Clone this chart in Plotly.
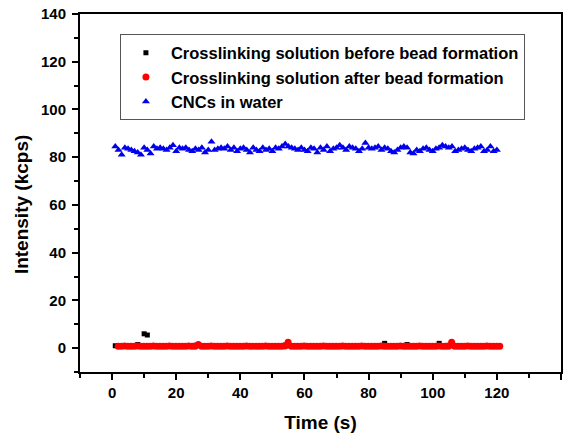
import numpy as np
import plotly.graph_objects as go

# Sampling times (s)
time_s = np.arange(1, 121)

# CNCs in water (kcps)
cnc_water = [
    84.5, 83.0, 81.0, 84.0, 83.5, 83.0, 82.5, 82.0, 81.0, 84.0,
    83.0, 81.5, 84.5, 83.5, 84.0, 83.5, 83.0, 84.0, 85.0, 82.5,
    84.0, 83.5, 84.0, 83.0, 82.5, 83.5, 83.0, 84.0, 82.0, 83.0,
    86.5, 83.0, 83.5, 84.0, 83.5, 84.5, 83.0, 84.0, 82.5, 83.5,
    84.0, 83.0, 82.0, 84.0, 83.0, 82.5, 84.0, 83.0, 83.5, 82.5,
    84.0, 83.5, 84.5, 85.5, 84.5, 84.0, 83.5, 83.0, 84.0, 83.0,
    82.5, 84.0, 83.5, 82.0, 84.0, 83.0, 84.5, 82.5, 83.5, 84.0,
    85.0, 84.0, 83.0, 84.5, 84.0, 83.5, 82.5, 83.5, 86.0, 84.0,
    83.5, 84.0, 84.5, 83.0, 84.0, 83.5, 82.5, 82.0, 83.0, 84.0,
    84.5, 84.0, 82.0, 81.5, 83.0, 82.5, 83.5, 84.0, 83.0, 82.5,
    83.5, 84.0, 85.0, 84.5, 84.0, 84.5, 82.5, 83.0, 83.5, 84.0,
    83.0, 82.5, 83.5, 84.0, 84.5, 82.5, 83.0, 84.5, 82.5, 83.0,
]

# Crosslinking solution before bead formation (kcps)
before_beads = [
    1.0, 0.9, 1.0, 1.0, 0.9, 1.0, 1.1, 1.5, 1.0, 6.0,
    5.5, 1.0, 0.9, 1.0, 1.0, 1.1, 1.0, 0.9, 1.0, 1.0,
    1.0, 0.9, 1.0, 1.0, 1.1, 1.2, 1.0, 0.9, 1.0, 1.0,
    1.0, 1.0, 0.9, 1.0, 1.0, 1.0, 1.1, 1.0, 0.9, 1.0,
    1.0, 1.0, 0.9, 1.0, 1.0, 1.1, 1.0, 1.0, 0.9, 1.0,
    1.0, 1.0, 1.0, 1.3, 1.0, 0.9, 1.0, 1.0, 1.0, 1.1,
    1.0, 0.9, 1.0, 1.0, 1.0, 1.0, 0.9, 1.0, 1.0, 1.1,
    1.0, 1.0, 0.9, 1.0, 1.0, 1.0, 1.0, 0.9, 1.0, 1.0,
    1.1, 1.0, 1.0, 1.0, 2.0, 1.0, 0.9, 1.0, 1.0, 1.0,
    1.0, 1.5, 1.0, 0.9, 1.0, 1.0, 1.0, 1.1, 1.0, 1.0,
    1.0, 2.0, 1.0, 1.0, 1.2, 1.0, 0.9, 1.0, 1.0, 1.0,
    1.0, 1.0, 0.9, 1.0, 1.0, 1.1, 1.0, 1.0, 0.9, 1.0,
]

# Crosslinking solution after bead formation (kcps)
after_beads = [
    0.8, 0.8, 0.9, 0.8, 0.8, 0.8, 0.9, 0.8, 0.8, 0.8,
    0.8, 0.9, 0.8, 0.8, 0.8, 0.8, 0.9, 0.8, 0.8, 0.8,
    0.8, 0.8, 0.9, 0.8, 0.8, 1.5, 0.8, 0.8, 0.8, 0.9,
    0.8, 0.8, 0.8, 0.8, 0.9, 0.8, 0.8, 0.8, 0.8, 0.8,
    0.9, 0.8, 0.8, 0.8, 0.8, 0.8, 0.9, 0.8, 0.8, 0.8,
    0.8, 0.8, 0.9, 2.5, 0.8, 0.8, 0.8, 0.8, 0.9, 0.8,
    0.8, 0.8, 0.8, 0.8, 0.9, 0.8, 0.8, 0.8, 0.8, 0.8,
    0.9, 0.8, 0.8, 0.8, 0.8, 0.8, 0.9, 0.8, 0.8, 0.8,
    0.8, 0.8, 0.9, 0.8, 0.8, 0.8, 0.8, 0.8, 0.9, 0.8,
    0.8, 0.8, 0.8, 0.8, 0.9, 0.8, 0.8, 0.8, 0.8, 0.8,
    0.9, 0.8, 0.8, 0.8, 2.5, 0.8, 0.8, 0.8, 0.8, 0.9,
    0.8, 0.8, 0.8, 0.8, 0.8, 0.9, 0.8, 0.8, 0.8, 0.8,
]
after_time = [t + 0.9 for t in time_s]  # red series ends slightly later (~121 s)

font_family = "Liberation Sans, Arial, sans-serif"

fig = go.Figure()
fig.add_trace(go.Scatter(
    x=time_s, y=before_beads, mode="markers",
    name="<b>Crosslinking solution before bead formation</b>",
    marker=dict(symbol="square", size=5, color="#000000"),
))
fig.add_trace(go.Scatter(
    x=after_time, y=after_beads, mode="markers",
    name="<b>Crosslinking solution after bead formation</b>",
    marker=dict(symbol="circle", size=7, color="#ff0000"),
))
fig.add_trace(go.Scatter(
    x=time_s, y=cnc_water, mode="markers",
    name="<b>CNCs in water</b>",
    marker=dict(symbol="triangle-up", size=7, color="#0000ee"),
))

axis_common = dict(
    showline=True, linecolor="black", linewidth=2, mirror=True,
    ticks="outside", ticklen=6, tickwidth=2, tickcolor="black",
    showgrid=False, zeroline=False, automargin=False,
    tickfont=dict(family=font_family, size=15, color="black", weight="bold"),
    minor=dict(ticks="outside", ticklen=4, tickwidth=2, tickcolor="black", dtick=10, showgrid=False),
)

fig.update_xaxes(
    range=[-10, 140], tickvals=[0, 20, 40, 60, 80, 100, 120, 140],
    title=dict(text="<b>Time (s)</b>", font=dict(family=font_family, size=19, color="black"), standoff=16),
    **axis_common,
)
fig.update_yaxes(
    range=[-10, 140], tickvals=[0, 20, 40, 60, 80, 100, 120, 140],
    ticklabelstandoff=3,
    **axis_common,
)

fig.add_annotation(
    text="<b>Intensity (kcps)</b>", textangle=-90,
    xref="paper", yref="paper", x=-0.12, y=0.467,
    xanchor="center", yanchor="middle", showarrow=False,
    font=dict(family=font_family, size=19, color="black"),
)

fig.update_layout(
    width=573, height=434,
    margin=dict(l=80, r=12, t=14, b=62),
    paper_bgcolor="white", plot_bgcolor="white",
    showlegend=True,
    legend=dict(
        x=0.083, y=0.943, xanchor="left", yanchor="top",
        bgcolor="rgba(255,255,255,0)", bordercolor="#555555", borderwidth=1,
        font=dict(family=font_family, size=16.5, color="black"),
        itemwidth=40, tracegroupgap=0,
    ),
)

fig.write_html("out.html")
